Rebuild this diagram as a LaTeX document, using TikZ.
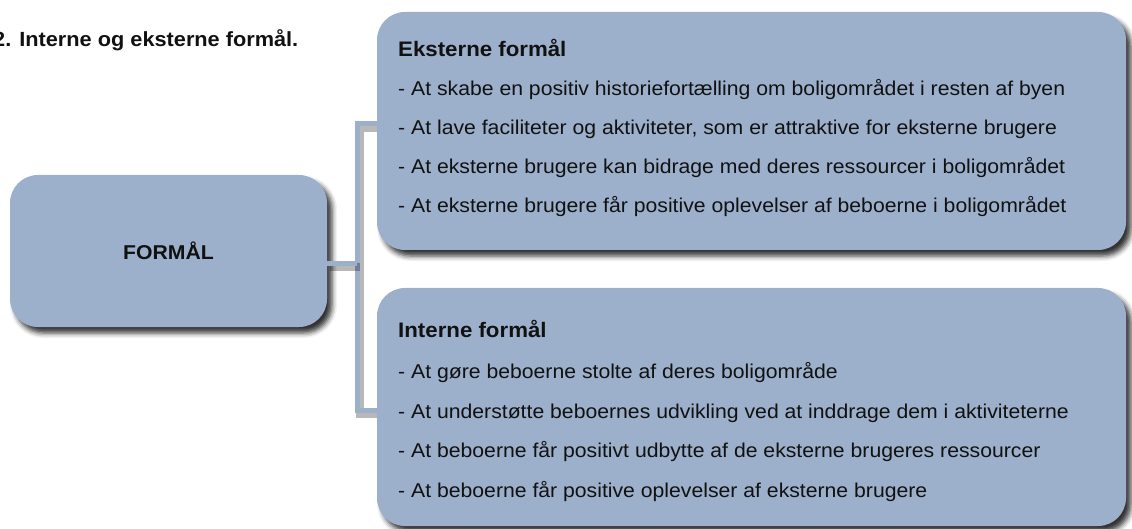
\documentclass[tikz,border=0pt]{standalone}
\usepackage{fontspec}
\setmainfont{Liberation Sans}[FakeStretch=1.06]
\usetikzlibrary{shadows.blur}
\definecolor{boxblue}{RGB}{157,176,203}
\definecolor{ink}{RGB}{17,17,17}
\pgfdeclarelayer{mid}
\pgfsetlayers{mid,main}
\begin{document}
\begin{tikzpicture}[x=1pt,y=-1pt,
  panel/.style={fill=boxblue, rounded corners=28pt, inner sep=0pt,
    blur shadow={shadow xshift=5pt, shadow yshift=-6pt, shadow blur radius=5pt, shadow opacity=80}},
  conn/.style={draw=boxblue, line width=5pt,
    preaction={draw=black, draw opacity=0.28, line width=8pt, transform canvas={shift={(3pt,-4pt)}}}},
  item/.style={anchor=base west, inner sep=0pt, text=ink, font=\fontsize{20}{24}\selectfont},
  head/.style={anchor=base west, inner sep=0pt, text=ink, font=\fontsize{21}{24}\selectfont\bfseries},
]
\useasboundingbox (0,0) rectangle (1132,529);

\node[anchor=base west, inner sep=0pt, text=ink, font=\fontsize{20.5}{24}\selectfont\bfseries] (title) at (-7,47) {2. Interne og eksterne formål.};

\node[panel, minimum width=317pt, minimum height=152pt, text=ink, font=\fontsize{20}{24}\selectfont\bfseries] (formaal) at (168.5,251) {FORMÅL};

\node[panel, minimum width=749pt, minimum height=238pt] (ext) at (751.5,131) {};
\node[panel, minimum width=749pt, minimum height=238pt] (int) at (751.5,407) {};

\coordinate (bt) at (357,124);
\coordinate (bm) at (357,263.5);
\coordinate (bb) at (357,410);
\begin{pgfonlayer}{mid}
\draw[conn] (ext.west |- bt) -- (bt) -- (bb) -- (int.west |- bb);
\end{pgfonlayer}
\draw[conn] (formaal.east |- bm) -- (bm);

\node[head] (exth) at (398,57) {Eksterne formål};
\node[item] (e1) at (398,96) {- At skabe en positiv historiefortælling om boligområdet i resten af byen};
\node[item] (e2) at (398,135) {- At lave faciliteter og aktiviteter, som er attraktive for eksterne brugere};
\node[item] (e3) at (398,174) {- At eksterne brugere kan bidrage med deres ressourcer i boligområdet};
\node[item] (e4) at (398,213) {- At eksterne brugere får positive oplevelser af beboerne i boligområdet};

\node[head] (inth) at (398,337) {Interne formål};
\node[item] (i1) at (398,378) {- At gøre beboerne stolte af deres boligområde};
\node[item] (i2) at (398,418) {- At understøtte beboernes udvikling ved at inddrage dem i aktiviteterne};
\node[item] (i3) at (398,457) {- At beboerne får positivt udbytte af de eksterne brugeres ressourcer};
\node[item] (i4) at (398,497) {- At beboerne får positive oplevelser af eksterne brugere};
\end{tikzpicture}
\end{document}
